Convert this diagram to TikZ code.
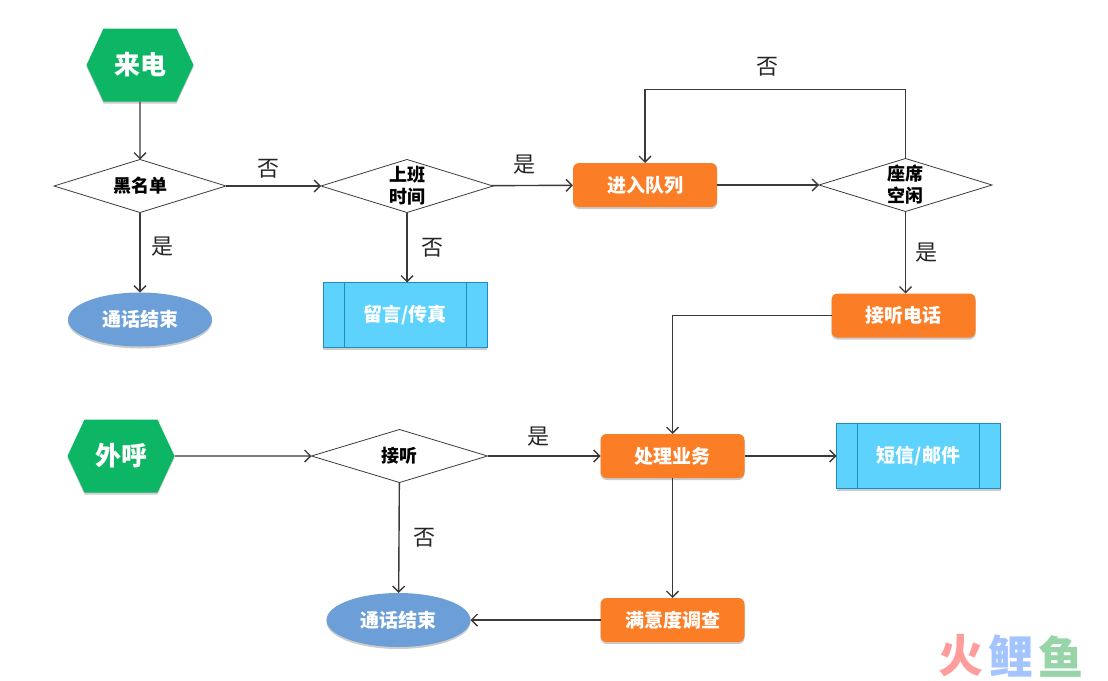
\documentclass[tikz,border=0pt]{standalone}
\usepackage{fontspec}
\setmainfont{Noto Sans CJK SC}
\usetikzlibrary{shapes,arrows.meta,positioning,shadows}
\definecolor{hexgreen}{HTML}{0DB665}
\definecolor{endblue}{HTML}{6C9FD8}
\definecolor{subblue}{HTML}{5CD2FC}
\definecolor{subedge}{HTML}{1E8CBE}
\definecolor{taskorange}{HTML}{FB7E27}
\definecolor{linegray}{HTML}{3A3A3A}
\definecolor{logored}{HTML}{FF9C9C}
\definecolor{logoblue}{HTML}{A4C4FF}
\definecolor{logogreen}{HTML}{97D4A8}
\newcommand{\zerobox}[1]{\smash{\makebox[0pt]{\raisebox{-0.35em}{\begin{tabular}{@{}c@{}}#1\end{tabular}}}}}

\begin{document}
\begin{tikzpicture}[
            outer sep=0pt,
            softshadow/.style={drop shadow={shadow xshift=0pt, shadow yshift=-2pt, opacity=0.2, fill=black}},
            terminal/.style={signal, signal to=east and west, signal pointer angle=130, fill=hexgreen, text=white, minimum width=107pt, minimum height=73pt, inner sep=0pt, font=\fontsize{26}{30}\selectfont\bfseries, softshadow},
            decision/.style={diamond, draw=linegray, thick, minimum width=172pt, minimum height=53pt, inner sep=0pt, font=\fontsize{18}{22}\selectfont\bfseries},
            finish/.style={ellipse, fill=endblue, text=white, minimum width=144pt, minimum height=54pt, inner sep=0pt, font=\fontsize{19}{22}\selectfont\bfseries, softshadow},
            task/.style={rectangle, rounded corners=6pt, fill=taskorange, text=white, minimum width=144pt, minimum height=44pt, inner sep=0pt, font=\fontsize{19}{22}\selectfont\bfseries, softshadow},
            subtask/.style={rectangle, draw=subedge, thick, fill=subblue, text=white, minimum width=164pt, minimum height=65pt, inner sep=0pt, font=\fontsize{19}{22}\selectfont\bfseries, softshadow,
                path picture={
                    \draw[subedge, thick] ([xshift=21pt]path picture bounding box.north west) -- ([xshift=21pt]path picture bounding box.south west);
                    \draw[subedge, thick] ([xshift=-21pt]path picture bounding box.north east) -- ([xshift=-21pt]path picture bounding box.south east);
                }},
            arrow/.style={-{Straight Barb[length=6pt,width=12pt]}, draw=linegray, line width=1.4pt},
            tag/.style={inner sep=0pt, text=black!85, font=\fontsize{22}{24}\selectfont},
            logo/.style={inner sep=0pt, font=\fontsize{45}{50}\selectfont\bfseries}
        ]
            \useasboundingbox (0,0) rectangle (1108pt,-680pt);

            \node[terminal] (incall) at (140pt,-65pt) {来电};
            \node[decision, below=58pt of incall] (blacklist) {\zerobox{黑名单}};
            \node[finish, below=80pt of blacklist] (endA) {通话结束};
            \node[decision, right=97pt of blacklist, xshift=-2pt] (worktime) {\zerobox{上班\\时间}};
            \node[subtask, below=70pt of worktime, xshift=-2pt] (message) {留言/传真};
            \node[task, right=80pt of worktime, yshift=1pt] (queue) {进入队列};
            \node[decision, right=102pt of queue, minimum width=173pt] (idle) {\zerobox{座席\\空闲}};
            \node[task, below=82pt of idle, xshift=-2pt] (answer) {接听电话};

            \node[terminal, below=73pt of endA, xshift=-19pt] (outcall) {外呼};
            \node[decision, right=137pt of outcall, minimum width=176pt] (picked) {\zerobox{接听}};
            \node[task, right=113pt of picked] (business) {处理业务};
            \node[subtask, right=92pt of business] (sms) {短信/邮件};
            \node[task, below=120pt of business] (survey) {满意度调查};
            \node[finish, left=130pt of survey] (endB) {通话结束};

            \node[logo, text=logored] (logoA) at (961pt,-656pt) {火};
            \node[logo, text=logoblue, right=5pt of logoA] (logoB) {鲤};
            \node[logo, text=logogreen, right=5pt of logoB] (logoC) {鱼};

            \draw[arrow] (incall) -- (blacklist);
            \draw[arrow] (blacklist) -- node[tag, right=11pt, yshift=6pt] {是} (endA);
            \draw[arrow] (blacklist) -- node[tag, above=8pt, pos=0.45] {否} (worktime);
            \draw[arrow] (worktime) -- node[tag, right=14pt] {否} (worktime |- message.north);
            \draw[arrow] (worktime) -- node[tag, above=11pt, pos=0.4] {是} (queue);
            \draw[arrow] (queue) -- (idle);
            \draw[arrow] (idle.north) -- ++(0,69pt) -| node[tag, above=13pt, pos=0.265] {否} (queue.north);
            \draw[arrow] (idle) -- node[tag, right=10pt] {是} (idle |- answer.north);
            \draw[arrow] (answer) -| (business);
            \draw[arrow] (outcall) -- (picked);
            \draw[arrow] (picked) -- node[tag, above=10pt, pos=0.45] {是} (business);
            \draw[arrow] (picked) -- node[tag, right=14pt] {否} (endB);
            \draw[arrow] (business) -- (sms);
            \draw[arrow] (business) -- (survey);
            \draw[arrow] (survey) -- (endB);
        \end{tikzpicture}
\end{document}
